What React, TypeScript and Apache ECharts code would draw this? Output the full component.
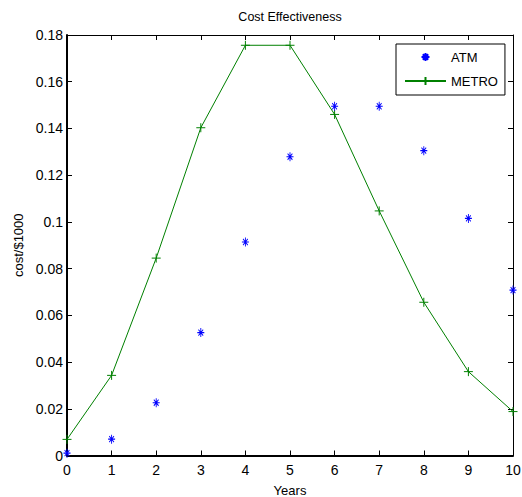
import React, { useEffect, useRef } from "react";
import * as echarts from "echarts";

const years = [0, 1, 2, 3, 4, 5, 6, 7, 8, 9, 10];
const atm = [0.001, 0.007, 0.0226, 0.0526, 0.0914, 0.1279, 0.1495, 0.1495, 0.1305, 0.1015, 0.0708];
const metro = [0.0069, 0.0343, 0.0845, 0.1403, 0.1756, 0.1756, 0.146, 0.1047, 0.0656, 0.0359, 0.0188];
const seriesNames = ["ATM", "METRO"];
const titleText = "Cost Effectiveness";
const xName = "Years";
const yName = "cost/$1000";

const FONT = "'Liberation Sans', Arial, Helvetica, sans-serif";
const ASTERISK = "path://M5,0L5,10M0,5L10,5M1.6,1.6L8.4,8.4M1.6,8.4L8.4,1.6";
const PLUS = "path://M5,0L5,10M0,5L10,5";

export default function App() {
  const ref = useRef<HTMLDivElement>(null);
  useEffect(() => {
    if (!ref.current) return;
    const chart = echarts.init(ref.current, null, { renderer: "svg" });
    const tick = { show: true, inside: true, length: 5, lineStyle: { color: "#000", width: 1 } };
    chart.setOption({
      animation: false,
      backgroundColor: "#fff",
      grid: { left: 67, top: 35, right: 9, bottom: 41.5, containLabel: false, outerBoundsMode: "none" },
      graphic: [
        {
          type: "text",
          x: 290,
          y: 16.5,
          style: {
            text: titleText,
            fontFamily: FONT,
            fontSize: 12.5,
            fill: "#000",
            textAlign: "center",
            textVerticalAlign: "middle",
          },
        },
      ],
      legend: {
        orient: "vertical",
        left: 396,
        top: 44,
        borderColor: "#000",
        borderWidth: 1,
        padding: [6, 7, 7, 8],
        itemWidth: 41,
        itemHeight: 10,
        itemGap: 10,
        backgroundColor: "#fff",
        textStyle: { fontFamily: FONT, fontSize: 13, color: "#000", lineHeight: 14 },
        data: seriesNames,
      },
      xAxis: [
        {
          type: "value",
          min: 0,
          max: 10,
          interval: 1,
          name: xName,
          nameLocation: "middle",
          nameGap: 28,
          nameTextStyle: { fontFamily: FONT, fontSize: 13, color: "#000" },
          axisLine: { show: true, onZero: false, lineStyle: { color: "#000", width: 2 } },
          axisTick: tick,
          splitLine: { show: false },
          axisLabel: { fontFamily: FONT, fontSize: 14, color: "#000", margin: 7 },
        },
        {
          type: "value",
          position: "top",
          min: 0,
          max: 10,
          interval: 1,
          axisLine: { show: true, onZero: false, lineStyle: { color: "#000", width: 1 } },
          axisTick: tick,
          splitLine: { show: false },
          axisLabel: { show: false },
        },
      ],
      yAxis: [
        {
          type: "value",
          min: 0,
          max: 0.18,
          interval: 0.02,
          name: yName,
          nameLocation: "middle",
          nameGap: 33,
          nameTextStyle: { fontFamily: FONT, fontSize: 13, color: "#000" },
          axisLine: { show: true, onZero: false, lineStyle: { color: "#000", width: 2 } },
          axisTick: tick,
          splitLine: { show: false },
          axisLabel: {
            fontFamily: FONT,
            fontSize: 14,
            color: "#000",
            margin: 4,
            formatter: (v: number) => String(+v.toFixed(2)),
          },
        },
        {
          type: "value",
          position: "right",
          min: 0,
          max: 0.18,
          interval: 0.02,
          axisLine: { show: true, onZero: false, lineStyle: { color: "#000", width: 1 } },
          axisTick: tick,
          splitLine: { show: false },
          axisLabel: { show: false },
        },
      ],
      series: [
        {
          name: seriesNames[0],
          type: "line",
          clip: false,
          data: years.map((x, i) => [x, atm[i]]),
          symbol: ASTERISK,
          symbolSize: [7, 9],
          showSymbol: true,
          lineStyle: { width: 0, opacity: 0 },
          itemStyle: { color: "#0000ff", borderColor: "#0000ff", borderWidth: 1 },
          emphasis: { disabled: true },
          z: 3,
        },
        {
          name: seriesNames[1],
          type: "line",
          clip: false,
          data: years.map((x, i) => [x, metro[i]]),
          symbol: PLUS,
          symbolSize: 9,
          showSymbol: true,
          lineStyle: { width: 1, color: "#008000" },
          itemStyle: { color: "#008000", borderColor: "#008000", borderWidth: 1 },
          emphasis: { disabled: true },
          z: 2,
        },
      ],
    });
    return () => chart.dispose();
  }, []);
  return (
    <div
      ref={ref}
      style={{ position: "absolute", left: 0, top: 0, width: 522, height: 497 }}
    />
  );
}
